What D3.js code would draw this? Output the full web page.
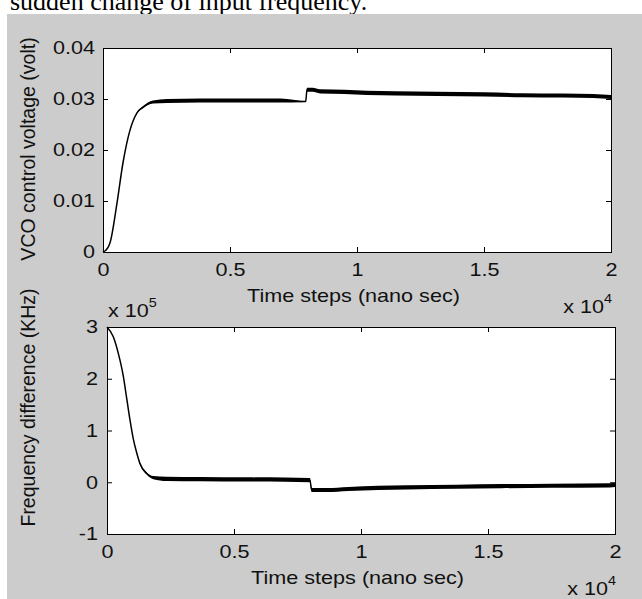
<!DOCTYPE html>
<html><head><meta charset="utf-8">
<script src="https://cdn.jsdelivr.net/npm/d3@7"></script>
<style>
html,body{margin:0;padding:0;background:#fff;}
svg{display:block;}
</style></head><body>
<svg id="c" width="642" height="599"></svg>
<script>
// ---- data ----
const xTickValues = [0, 5000, 10000, 15000, 20000];
const xTickLabels = ["0", "0.5", "1", "1.5", "2"];
const topYTickValues = [0, 0.01, 0.02, 0.03, 0.04];
const topYTickLabels = ["0", "0.01", "0.02", "0.03", "0.04"];
const botYTickValues = [-1, 0, 1, 2, 3];
const botYTickLabels = ["-1", "0", "1", "2", "3"];

// VCO control voltage (volt) vs time steps
const timeTop = [0, 100, 200, 276, 551, 787, 1063, 1339, 1575, 1969, 2520, 3819, 5500, 7000, 7980, 8030, 8250, 8543, 9500, 10394, 11500, 13150, 15000, 16500, 18110, 19300, 20000];
const voltTop = [0, 0.0003, 0.0009, 0.0018, 0.0096, 0.0175, 0.0239, 0.0273, 0.0284, 0.0294, 0.0296, 0.0297, 0.0297, 0.0297, 0.0295, 0.0318, 0.0318, 0.0315, 0.0314, 0.0312, 0.0311, 0.0310, 0.0309, 0.03075, 0.0307, 0.0306, 0.0304];
const rippleTop = [0, 0, 0, 0, 0, 0, 0, 0.0001, 0.0002, 0.0003, 0.0004, 0.0004, 0.0004, 0.0004, 0.0001, 0.0004, 0.0004, 0.0004, 0.0004, 0.0004, 0.0004, 0.0004, 0.0004, 0.0004, 0.0004, 0.0004, 0.0004];

// Frequency difference (x10^5 KHz) vs time steps
const timeBot = [0, 248, 445, 642, 776, 906, 1035, 1169, 1299, 1563, 1823, 2350, 3661, 5500, 7000, 7990, 8058, 8649, 9501, 10682, 11798, 13768, 15539, 17500, 19803, 20000];
const freqBot = [3.0, 2.81, 2.49, 2.05, 1.62, 1.2, 0.84, 0.57, 0.36, 0.17, 0.09, 0.065, 0.06, 0.055, 0.05, 0.04, -0.15, -0.15, -0.13, -0.11, -0.10, -0.087, -0.075, -0.068, -0.06, -0.05];
const rippleBot = [0, 0, 0, 0, 0, 0, 0, 0, 0.01, 0.02, 0.03, 0.04, 0.04, 0.04, 0.04, 0.04, 0.04, 0.04, 0.04, 0.04, 0.04, 0.04, 0.04, 0.04, 0.04, 0.04];

// ---- layout ----
const FONT = "'Liberation Sans', Arial, Helvetica, sans-serif";
const SX = 1.2; // horizontal glyph stretch of the original rendering
const svg = d3.select("#c");

// document text above the figure (cut off at the top edge, as in the source)
svg.append("text").attr("x", 10).attr("y", 10)
  .attr("font-family", "'Liberation Serif', 'Times New Roman', serif")
  .attr("font-size", 26).attr("fill", "#000")
  .text("sudden change of input frequency.");

// figure background
svg.append("rect").attr("x", 7).attr("y", 14).attr("width", 635).attr("height", 585).attr("fill", "#cccccc");

function hText(x, y, str, anchor, size) {
  return svg.append("text")
    .attr("transform", `translate(${x},${y}) scale(${SX},1)`)
    .attr("text-anchor", anchor)
    .attr("font-family", FONT).attr("font-size", size).attr("fill", "#111")
    .text(str);
}

function panel(cfg) {
  const x = d3.scaleLinear().domain([0, 20000]).range([cfg.L, cfg.R]);
  const y = d3.scaleLinear().domain(cfg.yDomain).range([cfg.B, cfg.T]);
  const g = svg.append("g");
  g.append("rect").attr("x", cfg.L).attr("y", cfg.T).attr("width", cfg.R - cfg.L).attr("height", cfg.B - cfg.T).attr("fill", "#fff");

  const pts = cfg.t.map((t, i) => ({ t, v: cfg.v[i], r: cfg.r[i] }));
  g.append("path").datum(pts)
    .attr("d", d3.area().x(d => x(d.t)).y0(d => y(d.v - d.r)).y1(d => y(d.v + d.r)).curve(d3.curveMonotoneX))
    .attr("fill", "#000");
  g.append("path").datum(pts)
    .attr("d", d3.line().x(d => x(d.t)).y(d => y(d.v)).curve(d3.curveMonotoneX))
    .attr("fill", "none").attr("stroke", "#000").attr("stroke-width", 1.5);

  const styleAxis = sel => {
    sel.select(".domain").remove();
    sel.selectAll(".tick line").attr("stroke", "#000");
    sel.selectAll(".tick text").attr("font-family", FONT).attr("font-size", 18).attr("fill", "#111")
      .attr("transform", `scale(${SX},1)`);
    sel.attr("font-size", null).attr("font-family", null);
  };
  const fmtX = (d, i) => xTickLabels[i];
  const fmtY = (d, i) => cfg.yLabels[i];
  g.append("g").attr("transform", `translate(0,${cfg.B})`)
    .call(d3.axisBottom(x).tickValues(xTickValues).tickFormat(fmtX).tickSizeInner(-5).tickSizeOuter(0).tickPadding(11.5))
    .call(styleAxis);
  g.append("g").attr("transform", `translate(0,${cfg.T})`)
    .call(d3.axisTop(x).tickValues(xTickValues).tickFormat("").tickSizeInner(-5).tickSizeOuter(0))
    .call(styleAxis);
  g.append("g").attr("transform", `translate(${cfg.L},0)`)
    .call(d3.axisLeft(y).tickValues(cfg.yTicks).tickFormat(fmtY).tickSizeInner(-5).tickSizeOuter(0).tickPadding(cfg.padY))
    .call(styleAxis);
  g.append("g").attr("transform", `translate(${cfg.R},0)`)
    .call(d3.axisRight(y).tickValues(cfg.yTicks).tickFormat("").tickSizeInner(-5).tickSizeOuter(0))
    .call(styleAxis);

  g.append("rect").attr("x", cfg.L + 0.5).attr("y", cfg.T + 0.5).attr("width", cfg.R - cfg.L).attr("height", cfg.B - cfg.T)
    .attr("fill", "none").attr("stroke", "#000").attr("stroke-width", 1);

  // x label
  hText((cfg.L + cfg.R) / 2 - 3.5, cfg.B + 50, "Time steps (nano sec)", "middle", 18);
  // x exponent
  const ex = hText(cfg.R + 1, cfg.B + 61, "x 10", "end", 18);
  ex.append("tspan").attr("dy", -10).attr("font-size", 12).text("4");
  // y label
  svg.append("text").attr("transform", `translate(35,${cfg.yLabelY}) rotate(-90)`)
    .attr("text-anchor", "middle").attr("font-family", FONT).attr("font-size", 19.5).attr("fill", "#111")
    .text(cfg.yTitle);
}

panel({ L: 103, R: 611, T: 48, B: 252, yDomain: [0, 0.04], yTicks: topYTickValues, yLabels: topYTickLabels,
  padY: 6.7, t: timeTop, v: voltTop, r: rippleTop, yTitle: "VCO control voltage (volt)", yLabelY: 149 });
panel({ L: 107, R: 615, T: 327, B: 534, yDomain: [-1, 3], yTicks: botYTickValues, yLabels: botYTickLabels,
  padY: 7.5, t: timeBot, v: freqBot, r: rippleBot, yTitle: "Frequency difference (KHz)", yLabelY: 407.5 });

// y exponent of bottom panel
const ey = hText(108, 317, "x 10", "start", 18);
ey.append("tspan").attr("dy", -10).attr("font-size", 12).text("5");
</script>
</body></html>
